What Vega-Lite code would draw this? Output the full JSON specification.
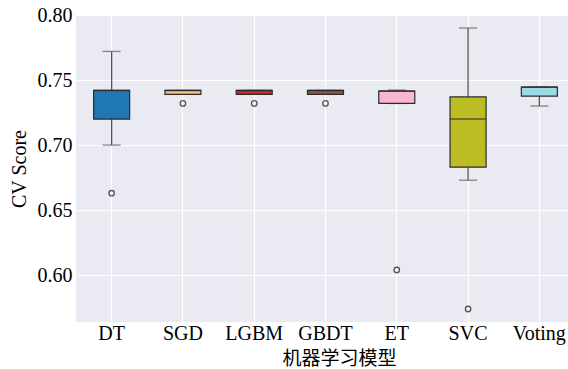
{
  "$schema": "https://vega.github.io/schema/vega-lite/v6.json",
  "width": 492,
  "height": 307,
  "autosize": "none",
  "padding": {"left": 76, "top": 15, "right": 0, "bottom": 47},
  "background": "white",
  "config": {
    "view": {"fill": "#eaeaf2", "stroke": null},
    "axis": {
      "labelFont": "Liberation Serif",
      "titleFont": "Liberation Serif, Noto Sans CJK SC",
      "labelFontSize": 20,
      "titleFontSize": 20,
      "labelColor": "#000000",
      "titleColor": "#000000",
      "titleFontWeight": "normal",
      "domain": false,
      "ticks": false,
      "grid": true,
      "gridColor": "#ffffff",
      "gridWidth": 1.2,
      "gridOpacity": 1
    }
  },
  "datasets": {
    "stats": [
      {"model": "DT", "lower": 0.700, "q1": 0.720, "median": 0.742, "q3": 0.742, "upper": 0.772},
      {"model": "SGD", "lower": 0.739, "q1": 0.739, "median": 0.742, "q3": 0.742, "upper": 0.742},
      {"model": "LGBM", "lower": 0.739, "q1": 0.739, "median": 0.742, "q3": 0.742, "upper": 0.742},
      {"model": "GBDT", "lower": 0.739, "q1": 0.739, "median": 0.742, "q3": 0.742, "upper": 0.742},
      {"model": "ET", "lower": 0.732, "q1": 0.732, "median": 0.7415, "q3": 0.7415, "upper": 0.7423},
      {"model": "SVC", "lower": 0.673, "q1": 0.683, "median": 0.720, "q3": 0.737, "upper": 0.790},
      {"model": "Voting", "lower": 0.730, "q1": 0.7377, "median": 0.7446, "q3": 0.7446, "upper": 0.7446}
    ],
    "outliers": [
      {"model": "DT", "value": 0.663},
      {"model": "SGD", "value": 0.732},
      {"model": "LGBM", "value": 0.732},
      {"model": "GBDT", "value": 0.732},
      {"model": "ET", "value": 0.604},
      {"model": "SVC", "value": 0.574}
    ]
  },
  "layer": [
    {
      "data": {"name": "stats"},
      "mark": {"type": "rule", "color": "#555555", "strokeWidth": 1.3},
      "encoding": {
        "x": {"field": "model", "type": "nominal", "sort": ["DT","SGD","LGBM","GBDT","ET","SVC","Voting"], "scale": {"type": "band", "range": [0, 499], "paddingInner": 0, "paddingOuter": 0}, "axis": {"title": "机器学习模型", "titleFontSize": 19, "labelAngle": 0, "labelPadding": 1, "titlePadding": 6, "titleX": 263, "titleAlign": "center"}},
        "y": {"field": "lower", "type": "quantitative", "scale": {"domain": [0.564, 0.80], "nice": false, "zero": false}, "axis": {"title": "CV Score", "values": [0.6, 0.65, 0.7, 0.75, 0.8], "format": ".2f", "labelPadding": 4, "titlePadding": 8}},
        "y2": {"field": "upper"}
      }
    },
    {
      "data": {"name": "stats"},
      "mark": {"type": "tick", "color": "#555555", "thickness": 1.3, "size": 18},
      "encoding": {
        "x": {"field": "model", "type": "nominal", "sort": ["DT","SGD","LGBM","GBDT","ET","SVC","Voting"]},
        "y": {"field": "lower", "type": "quantitative"}
      }
    },
    {
      "data": {"name": "stats"},
      "mark": {"type": "tick", "color": "#555555", "thickness": 1.3, "size": 18},
      "encoding": {
        "x": {"field": "model", "type": "nominal", "sort": ["DT","SGD","LGBM","GBDT","ET","SVC","Voting"]},
        "y": {"field": "upper", "type": "quantitative"}
      }
    },
    {
      "data": {"name": "stats"},
      "mark": {"type": "bar", "size": 36, "stroke": "#2b2b2b", "strokeWidth": 1.2},
      "encoding": {
        "x": {"field": "model", "type": "nominal", "sort": ["DT","SGD","LGBM","GBDT","ET","SVC","Voting"]},
        "y": {"field": "q1", "type": "quantitative"},
        "y2": {"field": "q3"},
        "fill": {"field": "model", "type": "nominal", "scale": {"domain": ["DT","SGD","LGBM","GBDT","ET","SVC","Voting"], "range": ["#1f77b4","#ffbb78","#d62728","#8c564b","#f7b6d2","#bcbd22","#9edae5"]}, "legend": null}
      }
    },
    {
      "data": {"name": "stats"},
      "mark": {"type": "tick", "color": "#2b2b2b", "thickness": 1.5, "size": 36},
      "encoding": {
        "x": {"field": "model", "type": "nominal", "sort": ["DT","SGD","LGBM","GBDT","ET","SVC","Voting"]},
        "y": {"field": "median", "type": "quantitative"}
      }
    },
    {
      "data": {"name": "outliers"},
      "mark": {"type": "point", "shape": "circle", "filled": false, "stroke": "#555555", "strokeWidth": 1.3, "size": 30, "opacity": 1},
      "encoding": {
        "x": {"field": "model", "type": "nominal", "sort": ["DT","SGD","LGBM","GBDT","ET","SVC","Voting"]},
        "y": {"field": "value", "type": "quantitative"}
      }
    }
  ]
}
